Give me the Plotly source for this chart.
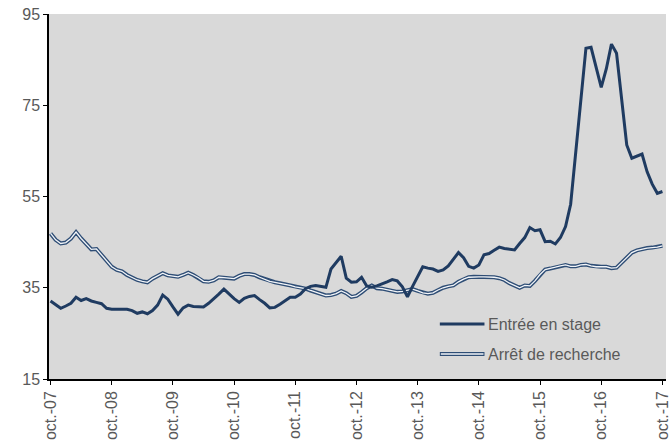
import plotly.graph_objects as go

# Monthly categories oct.-07 .. oct.-17
mois = ["janv.", "févr.", "mars", "avr.", "mai", "juin", "juil.", "août", "sept.", "oct.", "nov.", "déc."]
months = []
for k in range(121):
    m = (9 + k) % 12
    y = 7 + (9 + k) // 12
    months.append(f"{mois[m]}-{y:02d}")

tick_labels = ["oct.-07", "oct.-08", "oct.-09", "oct.-10", "oct.-11", "oct.-12",
               "oct.-13", "oct.-14", "oct.-15", "oct.-16", "oct.-17"]

entree_en_stage = [
    32.1, 31.2, 30.5, 31.0, 31.6, 32.9, 32.2, 32.6, 32.1, 31.8,
    31.5, 30.5, 30.3, 30.3, 30.3, 30.3, 30.0, 29.4, 29.7, 29.3,
    30.0, 31.2, 33.4, 32.5, 30.8, 29.2, 30.6, 31.2, 30.9, 30.8,
    30.8, 31.6, 32.5, 33.6, 34.7, 33.6, 32.6, 31.8, 32.7, 33.1,
    33.3, 32.4, 31.6, 30.6, 30.7, 31.4, 32.2, 32.9, 32.9, 33.6,
    34.8, 35.3, 35.5, 35.3, 35.1, 39.1, 40.5, 41.9, 37.1, 36.2,
    36.3, 37.3, 35.4, 35.1, 35.4, 35.8, 36.3, 36.8, 36.5, 35.2,
    33.0, 35.3, 37.6, 39.6, 39.3, 39.1, 38.6, 38.9, 39.8, 41.2,
    42.7, 41.6, 39.7, 39.3, 40.0, 42.2, 42.5, 43.2, 43.9, 43.6,
    43.4, 43.3, 44.7, 46.0, 48.2, 47.5, 47.7, 45.1, 45.2, 44.6,
    46.0, 48.4, 53.3, 64.5, 77.0, 87.5, 87.7, 83.5, 78.9, 83.0,
    88.4, 86.4, 76.9, 66.3, 63.4, 63.9, 64.3, 60.4, 57.7, 55.7,
    56.1,
]

arret_de_recherche = [
    46.9, 45.5, 44.7, 44.9, 45.8, 47.2, 45.8, 44.6, 43.4, 43.5,
    42.2, 40.8, 39.6, 38.9, 38.6, 37.8, 37.2, 36.7, 36.4, 36.2,
    37.0, 37.6, 38.2, 37.7, 37.5, 37.4, 37.8, 38.3, 37.8, 37.2,
    36.4, 36.3, 36.6, 37.3, 37.2, 37.1, 37.0, 37.6, 38.0, 38.0,
    37.8, 37.3, 36.9, 36.4, 36.2, 36.0, 35.8, 35.5, 35.2, 35.0,
    34.8, 34.4, 34.0, 33.7, 33.3, 33.4, 33.7, 34.3, 33.8, 33.0,
    33.2, 34.0, 34.9, 35.5, 34.9, 34.8, 34.6, 34.4, 34.1, 34.2,
    34.5, 34.7, 34.3, 33.9, 33.7, 33.9, 34.5, 35.0, 35.3, 35.5,
    36.3, 36.9, 37.3, 37.4, 37.4, 37.4, 37.4, 37.3, 37.1, 36.7,
    36.0, 35.5, 35.0, 35.5, 35.4, 36.5, 37.9, 39.0, 39.2, 39.5,
    39.8, 40.0, 39.7, 39.7, 40.0, 40.1, 39.8, 39.6, 39.6, 39.6,
    39.3, 39.4, 40.5, 41.5, 42.7, 43.2, 43.5, 43.7, 43.8, 43.9,
    44.2,
]

y_ticks = [15, 35, 55, 75, 95]

NAVY = "#1F3B61"
NAVY2 = "#2E4D75"
FONT = "Liberation Sans, Arial, sans-serif"
GREY_TXT = "#595959"
FS = 16

x_idx = list(range(len(months)))

fig = go.Figure()
fig.add_trace(go.Scatter(x=x_idx, y=arret_de_recherche, mode="lines",
                         line=dict(color=NAVY2, width=4), showlegend=False,
                         hoverinfo="skip"))
fig.add_trace(go.Scatter(x=x_idx, y=arret_de_recherche, mode="lines",
                         line=dict(color="#F2F5F9", width=1.3), showlegend=False,
                         name="Arrêt de recherche", text=months))
fig.add_trace(go.Scatter(x=x_idx, y=entree_en_stage, mode="lines",
                         line=dict(color=NAVY, width=3), showlegend=False,
                         name="Entrée en stage", text=months))

# Manual legend (to reproduce the double-line sample)
leg_x0, leg_x1 = 443, 488
def px_x(p):
    return (p - 49) / 622
def px_y(p):
    return 1 - (p - 14) / 365

fig.add_shape(type="line", xref="paper", yref="paper",
              x0=px_x(leg_x0), x1=px_x(leg_x1), y0=px_y(324), y1=px_y(324),
              line=dict(color=NAVY, width=3))
fig.add_shape(type="line", xref="paper", yref="paper",
              x0=px_x(leg_x0), x1=px_x(leg_x1), y0=px_y(354), y1=px_y(354),
              line=dict(color=NAVY2, width=4))
fig.add_shape(type="line", xref="paper", yref="paper",
              x0=px_x(leg_x0 + 1), x1=px_x(leg_x1 - 1), y0=px_y(354), y1=px_y(354),
              line=dict(color="#F2F5F9", width=1.3))
fig.add_annotation(xref="paper", yref="paper", x=px_x(490), y=px_y(324),
                   text="Entrée en stage", showarrow=False, xanchor="left",
                   yanchor="middle", font=dict(family=FONT, size=FS, color=GREY_TXT))
fig.add_annotation(xref="paper", yref="paper", x=px_x(490), y=px_y(354),
                   text="Arrêt de recherche", showarrow=False, xanchor="left",
                   yanchor="middle", font=dict(family=FONT, size=FS, color=GREY_TXT))

fig.update_layout(
    width=671, height=441,
    margin=dict(l=49, r=0, t=14, b=62),
    paper_bgcolor="white",
    plot_bgcolor="#D9D9D9",
    showlegend=False,
    font=dict(family=FONT, size=FS, color=GREY_TXT),
)
fig.update_xaxes(
    range=[-0.3, 120.7],
    tickmode="array",
    tickvals=[12 * i for i in range(len(tick_labels))],
    ticktext=tick_labels,
    tickangle=-90,
    ticks="outside", ticklen=4, tickcolor="black",
    ticklabeloverflow="allow",
    showline=True, linecolor="black", linewidth=1.5,
    showgrid=False, zeroline=False,
    tickfont=dict(family=FONT, size=FS, color=GREY_TXT),
)
fig.update_yaxes(
    range=[15, 95],
    tickmode="array", tickvals=y_ticks,
    ticks="outside", ticklen=4, tickcolor="black",
    showline=True, linecolor="black", linewidth=1.5,
    showgrid=False, zeroline=False,
    tickfont=dict(family=FONT, size=FS, color=GREY_TXT),
)

fig.write_html(
    "out.html",
    config={"displayModeBar": False},
    post_script="document.documentElement.style.margin='0';document.body.style.margin='0';"
                "document.body.style.overflow='hidden';",
)
